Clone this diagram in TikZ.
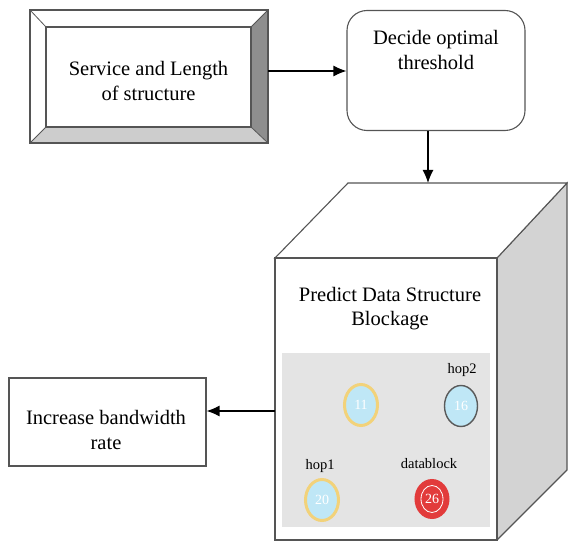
\documentclass[tikz,border=0pt]{standalone}
\usepackage{fontspec}
\setmainfont{Liberation Serif}
\usetikzlibrary{arrows.meta,shapes.geometric,calc}

\definecolor{edge}{HTML}{555555}
\definecolor{bevdark}{HTML}{8E8E8E}
\definecolor{bevlight}{HTML}{CDCDCD}
\definecolor{sideface}{HTML}{D3D3D3}
\definecolor{panel}{HTML}{E4E4E4}
\definecolor{ringgold}{HTML}{F2D27A}
\definecolor{ringgrey}{HTML}{5A5A5A}
\definecolor{ringred}{HTML}{E23B3B}
\definecolor{cellblue}{HTML}{BFE7F6}

\tikzset{
  outline/.style={draw=edge, line width=1.1pt},
  boxtext/.style={align=center, font=\fontsize{20.5}{24.5}\selectfont, inner sep=0pt},
  tagtext/.style={font=\fontsize{14.5}{16}\selectfont, inner sep=0pt},
  arr/.style={-{Latex[length=13pt,width=11pt]}, line width=1.2pt, black},
  cell/.style={ellipse, minimum width=33pt, minimum height=41pt, inner sep=0pt,
               line width=3pt, fill=cellblue, text=white,
               font=\fontsize{14}{15}\selectfont},
}

\begin{document}
\begin{tikzpicture}[x=1pt,y=-1pt]
\useasboundingbox (0,0) rectangle (568,548);
\clip (0,0) rectangle (568,548);

% --- bevelled input box ---
\fill[white] (30,10) -- (268,10) -- (251,27) -- (46,27) -- cycle;
\fill[white] (30,10) -- (46,27) -- (46,127) -- (30,143) -- cycle;
\fill[bevdark] (268,10) -- (268,143) -- (251,127) -- (251,27) -- cycle;
\fill[bevlight] (30,143) -- (268,143) -- (251,127) -- (46,127) -- cycle;
\node[outline, fill=white, minimum width=205pt, minimum height=100pt, inner sep=0pt]
  (box1) at (148.5,77) {};
\draw[outline] (30,10) rectangle (268,143);
\draw[edge, line width=0.8pt] (30,10) -- (46,27) (268,10) -- (251,27)
  (30,143) -- (46,127) (268,143) -- (251,127);
\node[boxtext] (box1text) at (148.5,81) {Service and Length\\of structure};

% --- rounded decision box ---
\node[outline, rounded corners=20pt, minimum width=178pt, minimum height=120pt,
      inner sep=0pt] (box2) at (436,70.5) {};
\node[boxtext] (box2text) at (436,50) {Decide optimal\\threshold};

% --- cube ---
\fill[sideface] (497,258) -- (567,183) -- (567,470) -- (497,540) -- cycle;
\draw[outline] (497,258) -- (567,183) -- (567,470) -- (497,540);
\draw[outline, fill=white] (275,258) -- (348,183) -- (567,183) -- (497,258) -- cycle;
\node[outline, fill=white, minimum width=222pt, minimum height=282pt, inner sep=0pt]
  (front) at (386,399) {};
\coordinate (cubetop) at (428,183);
\node[boxtext] (cubetext) at (390,308.5) {Predict Data Structure\\Blockage};

% --- inner panel with cells ---
\node[fill=panel, minimum width=208pt, minimum height=174pt, inner sep=0pt]
  (panel) at (386,440) {};
\node[cell, draw=ringgold] (c1) at (361,405) {11};
\node[cell, draw=ringgrey, line width=1.4pt] (c2) at (461,406) {16};
\node[tagtext] (t2) at (462,370) {hop2};
\node[cell, draw=ringgold] (c3) at (322,500) {20};
\node[tagtext] (t3) at (320,466) {hop1};
\node[cell, draw=ringred, fill=ringred, minimum width=32pt, minimum height=37pt]
  (c4) at (432,499) {26};
\draw[white, line width=0.8pt] (c4.center) ellipse (11pt and 13.5pt);
\node[tagtext] (t4) at (429,464) {datablock};

% --- output box ---
\node[outline, minimum width=197pt, minimum height=88pt, inner sep=0pt]
  (box3) at (107.5,422) {};
\node[boxtext] (box3text) at (106,430) {Increase bandwidth\\rate};

% --- connectors ---
\draw[arr] (box1.east -| 268,0) ++(0,-6) coordinate (a1) -- (a1 -| box2.west);
\draw[arr] (box2.south -| cubetop) -- (cubetop);
\coordinate (tap) at (275,411);
\draw[arr] (tap) -- (tap -| box3.east);
\end{tikzpicture}
\end{document}
